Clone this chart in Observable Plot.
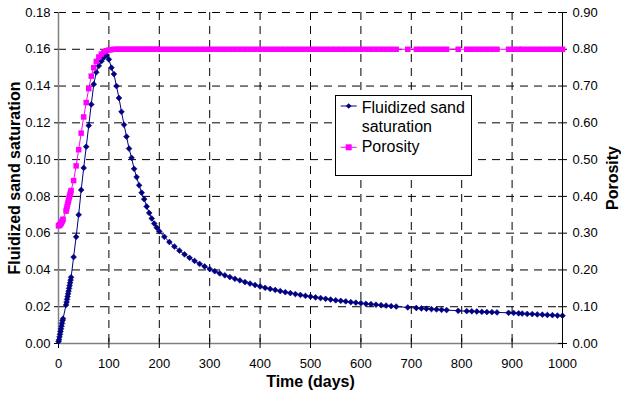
<!DOCTYPE html>
<html><head><meta charset="utf-8">
<script src="https://cdn.jsdelivr.net/npm/d3@7"></script>
<script src="https://cdn.jsdelivr.net/npm/@observablehq/plot@0.6"></script>
<style>
body{margin:0;background:#fff;}
#chart{position:relative;width:621px;height:399px;font-family:"Liberation Sans",Arial,sans-serif;background:#fff;}
#chart > svg{position:absolute;left:0;top:0;}
#legend{position:absolute;left:335px;top:95px;width:137px;height:81px;box-sizing:border-box;border:1px solid #000;background:#fff;font-size:16px;color:#000;}
#legend .lt{position:absolute;left:25.7px;line-height:18px;white-space:nowrap;}
#legend svg{position:absolute;left:0;top:0;}
</style></head>
<body><div id="chart"></div>
<script>
const days = [0,1,2,3,4,5,6,7,8,9,
  15,16,17,18,19,20,21,22,23,24,25,
  30,35,40,45,50,55,60,65,70,75,80,85,90,95,
  100,105,110,115,120,125,130,135,140,145,150,155,160,165,170,175,180,185,190,195,
  200,210,220,230,240,250,260,270,280,290,
  300,310,320,330,340,350,360,370,380,390,
  400,410,420,430,440,450,460,470,480,490,
  500,510,520,530,540,550,560,570,580,590,
  600,610,620,630,640,650,660,670,
  693,710,720,730,740,750,760,770,
  793,810,820,830,840,850,860,870,
  893,903,913,920,930,940,950,960,970,980,990,1000];

const saturation = [0.0010,0.0020,0.0035,0.0050,0.0065,0.0080,0.0095,0.0110,0.0125,0.0135,
  0.0210,0.0225,0.0240,0.0255,0.0270,0.0285,0.0300,0.0315,0.0330,0.0345,0.0360,
  0.0470,0.0580,0.0700,0.0835,0.0955,0.1070,0.1185,0.1300,0.1410,0.1475,0.1510,0.1535,0.1555,0.1568,
  0.1545,0.1500,0.1465,0.1400,0.1335,0.1260,0.1190,0.1125,0.1060,0.1010,0.0950,0.0905,0.0860,0.0820,0.0785,0.0745,0.0710,0.0680,0.0652,0.0630,
  0.0610,0.0580,0.0552,0.0527,0.0505,0.0485,0.0466,0.0449,0.0433,0.0419,
  0.0405,0.0393,0.0381,0.0371,0.0361,0.0352,0.0343,0.0334,0.0326,0.0318,
  0.0310,0.0303,0.0297,0.0291,0.0285,0.0279,0.0274,0.0269,0.0264,0.0259,
  0.0255,0.0251,0.0247,0.0243,0.0239,0.0235,0.0232,0.0229,0.0225,0.0222,
  0.0219,0.0216,0.0214,0.0211,0.0208,0.0206,0.0203,0.0201,
  0.0196,0.0193,0.0191,0.0189,0.0187,0.0185,0.0183,0.0182,
  0.0178,0.0176,0.0175,0.0174,0.0172,0.0171,0.0170,0.0169,
  0.0167,0.0166,0.0164,0.0163,0.0161,0.0160,0.0158,0.0157,0.0155,0.0154,0.0152,0.0151];

const porosity = [0.320,0.321,0.322,0.323,0.325,0.327,0.329,0.332,0.335,0.338,
  0.360,0.366,0.372,0.378,0.384,0.390,0.396,0.401,0.406,0.411,0.416,
  0.443,0.483,0.527,0.572,0.616,0.655,0.693,0.727,0.750,0.767,0.779,0.787,0.793,0.796,
  0.798,0.799,0.800,0.800,0.800,0.800,0.800,0.800,0.800,0.800,0.800,0.800,0.800,0.800,0.800,0.800,0.800,0.800,0.800,0.800,
  0.800,0.800,0.800,0.800,0.800,0.800,0.800,0.800,0.800,0.800,
  0.800,0.800,0.800,0.800,0.800,0.800,0.800,0.800,0.800,0.800,
  0.800,0.800,0.800,0.800,0.800,0.800,0.800,0.800,0.800,0.800,
  0.800,0.800,0.800,0.800,0.800,0.800,0.800,0.800,0.800,0.800,
  0.800,0.800,0.800,0.800,0.800,0.800,0.800,0.800,
  0.800,0.800,0.800,0.800,0.800,0.800,0.800,0.800,
  0.800,0.800,0.800,0.800,0.800,0.800,0.800,0.800,
  0.800,0.800,0.800,0.800,0.800,0.800,0.800,0.800,0.800,0.800,0.800,0.800];

const xTicks = [0,100,200,300,400,500,600,700,800,900,1000];
const satTicks = [0,0.02,0.04,0.06,0.08,0.10,0.12,0.14,0.16,0.18];
const porTicks = [0,0.1,0.2,0.3,0.4,0.5,0.6,0.7,0.8,0.9];
const satTitle = "Fluidized sand saturation";
const porTitle = "Porosity";
const xTitle = "Time (days)";
const legendSat = ["Fluidized sand", "saturation"];
const legendPor = "Porosity";

const rows = days.map((d, i) => ({day: d, sat: saturation[i], por: porosity[i]}));
const navy = "#000080", magenta = "#FF00FF";
const dash = "8,6";

const common = {
  width: 621, height: 399,
  marginLeft: 58, marginRight: 59, marginTop: 12, marginBottom: 56,
  style: {fontFamily: '"Liberation Sans", Arial, sans-serif', fontSize: "13px", color: "#000", background: "transparent", overflow: "visible"}
};

const p1 = Plot.plot({
  ...common,
  x: {domain: [0, 1000]},
  y: {domain: [0, 0.18]},
  marks: [
    Plot.ruleX(xTicks.filter(d => d > 0 && d < 1000), {stroke: "#000", strokeDasharray: dash}),
    Plot.ruleY(satTicks.filter(d => d > 0), {stroke: "#000", strokeDasharray: dash}),
    Plot.ruleX([0], {stroke: "#808080", strokeWidth: 1.5}),
    Plot.ruleY([0], {stroke: "#808080", strokeWidth: 1.5}),
    Plot.axisY(satTicks, {anchor: "left", tickSize: 4, tickPadding: 4, tickFormat: d => d.toFixed(2), label: null, fontSize: 13}),
    Plot.axisX(xTicks, {anchor: "bottom", tickSize: 5, tickPadding: 10, tickFormat: d => String(d), label: null, fontSize: 13}),
    Plot.ruleX(xTicks, {x: d => d, y1: 0, y2: 0, insetTop: -5, stroke: "#000"}),
    Plot.line(rows, {x: "day", y: "sat", stroke: navy, strokeWidth: 1}),
    Plot.dot(rows, {x: "day", y: "sat", symbol: "diamond2", r: 2.6, fill: navy, stroke: navy, strokeWidth: 0.6}),
    Plot.text([satTitle], {frameAnchor: "left", dx: -44, rotate: -90, textAnchor: "middle", lineAnchor: "middle", fontWeight: "bold", fontSize: 16, fill: "#000"}),
    Plot.text([xTitle], {frameAnchor: "bottom", dy: 38, textAnchor: "middle", lineAnchor: "middle", fontWeight: "bold", fontSize: 16, fill: "#000"})
  ]
});

const p2 = Plot.plot({
  ...common,
  x: {domain: [0, 1000], axis: null},
  y: {domain: [0, 0.9]},
  marks: [
    Plot.ruleX([1000], {stroke: "#000"}),
    Plot.axisY(porTicks, {anchor: "right", tickSize: 4, tickPadding: 6, tickFormat: d => d.toFixed(2), label: null, fontSize: 13}),
    Plot.ruleY(porTicks, {y: d => d, x1: 1000, x2: 1000, insetLeft: -4, stroke: "#000"}),
    Plot.line(rows, {x: "day", y: "por", stroke: magenta, strokeWidth: 1}),
    Plot.dot(rows, {x: "day", y: "por", symbol: "square", r: 3.1, fill: magenta, stroke: "none"}),
    Plot.text([porTitle], {frameAnchor: "right", dx: 50, rotate: -90, textAnchor: "middle", lineAnchor: "middle", fontWeight: "bold", fontSize: 16, fill: "#000"})
  ]
});

const chart = document.getElementById("chart");
chart.appendChild(p1);
chart.appendChild(p2);

const legend = document.createElement("div");
legend.id = "legend";
legend.innerHTML = `
<svg width="135" height="79">
  <line x1="4.7" x2="20.7" y1="10" y2="10" stroke="${navy}" stroke-width="1"/>
  <path d="M12.7,7.2L15.5,10L12.7,12.8L9.9,10Z" fill="${navy}"/>
  <line x1="4.7" x2="20.7" y1="51.3" y2="51.3" stroke="${magenta}" stroke-width="1"/>
  <rect x="9.7" y="48.3" width="6" height="6" fill="${magenta}"/>
</svg>
<div class="lt" style="top:3px">${legendSat[0]}</div>
<div class="lt" style="top:22px">${legendSat[1]}</div>
<div class="lt" style="top:42px">${legendPor}</div>`;
chart.appendChild(legend);
</script>
</body></html>
